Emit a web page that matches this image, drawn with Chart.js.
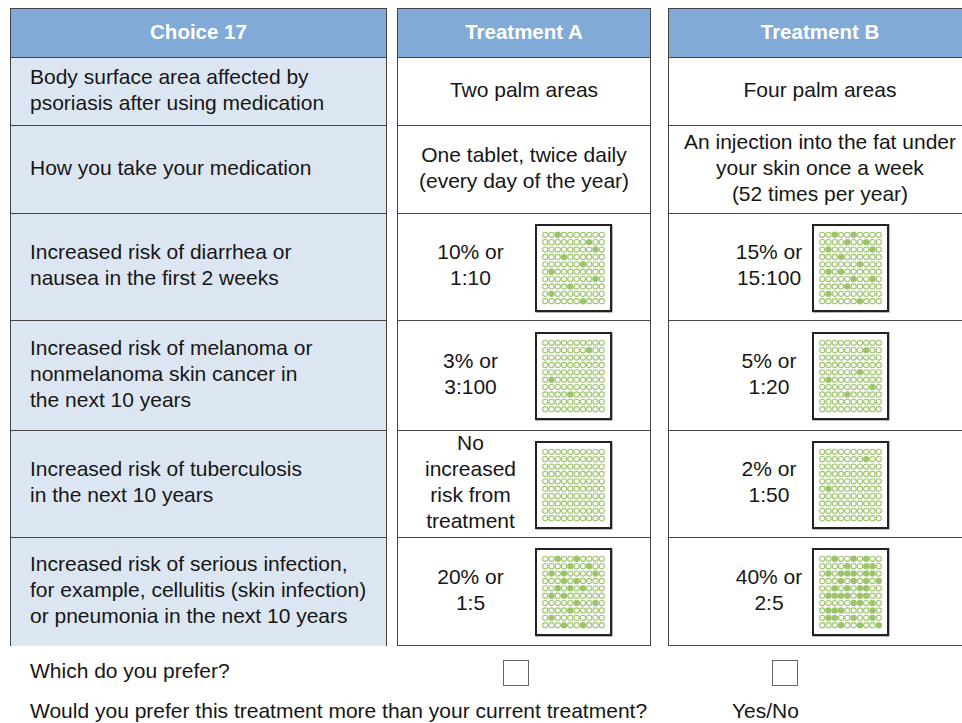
<!DOCTYPE html>
<html>
<head>
<meta charset="utf-8">
<script src="https://cdn.jsdelivr.net/npm/chart.js@4.4.1/dist/chart.umd.min.js"></script>
<style>
  body { margin:0; width:962px; height:723px; overflow:hidden; background:#fff; position:relative;
         font-family:"Liberation Sans", Arial, sans-serif; color:#161616; }
  .panel { position:absolute; top:8px; height:638px; border:1px solid #444; box-sizing:border-box; }
  .hdr { position:absolute; left:0; right:0; top:0; height:49px; background:#82aad6; color:#fff;
         font-weight:bold; font-size:20.5px; display:flex; align-items:center; justify-content:center;
         border-bottom:1px solid #444; box-sizing:border-box; padding-bottom:3px; }
  .row { position:absolute; left:0; right:0; border-bottom:1px solid #444; box-sizing:border-box; }
  .panel.attr .row { background:#dce6f2; }
  .txt { position:absolute; top:0; bottom:0; display:flex; align-items:center; font-size:21px; line-height:26px;
         white-space:pre; padding-bottom:4px; box-sizing:border-box; }
  .txt.c { justify-content:center; text-align:center; }
  .icon { position:absolute; width:77px; height:88px; border:2px solid #222; box-sizing:border-box; background:#fff;
          box-shadow:0.5px 0.5px 0 #777; }
  .icon canvas { display:block; }
  .q { position:absolute; left:30px; font-size:21px; line-height:26px; white-space:pre; }
  .box { position:absolute; top:660px; width:26px; height:26px; border:1px solid #666; box-sizing:border-box; }
</style>
</head>
<body>
<div class="panel attr" id="pAttr" style="left:10px;width:377px"><div class="hdr">Choice 17</div></div>
<div class="panel" id="pA" style="left:397px;width:254px"><div class="hdr">Treatment A</div></div>
<div class="panel" id="pB" style="left:668px;width:304px"><div class="hdr">Treatment B</div></div>

<div class="q" style="top:658px">Which do you prefer?</div>
<div class="box" style="left:503px"></div>
<div class="box" style="left:772px"></div>
<div class="q" style="top:698px">Would you prefer this treatment more than your current treatment?</div>
<div class="q" style="top:698px;left:732px">Yes/No</div>

<script>
// row texts
const attributes = [
  'Body surface area affected by\npsoriasis after using medication',
  'How you take your medication',
  'Increased risk of diarrhea or\nnausea in the first 2 weeks',
  'Increased risk of melanoma or\nnonmelanoma skin cancer in\nthe next 10 years',
  'Increased risk of tuberculosis\nin the next 10 years',
  'Increased risk of serious infection,\nfor example, cellulitis (skin infection)\nor pneumonia in the next 10 years'
];
const treatmentA = ['Two palm areas', 'One tablet, twice daily\n(every day of the year)',
  '10% or\n1:10', '3% or\n3:100', 'No\nincreased\nrisk from\ntreatment', '20% or\n1:5'];
const treatmentB = ['Four palm areas', 'An injection into the fat under\nyour skin once a week\n(52 times per year)',
  '15% or\n15:100', '5% or\n1:20', '2% or\n1:50', '40% or\n2:5'];

// icon arrays: for each of the 10 rows, the columns of filled dots
const diarrheaA  = [[2],[7],[8],[3],[6],[1],[8],[4],[1],[6]];
const diarrheaB  = [[2,5],[4,7],[1,8],[3],[6],[1,3],[5,8],[4],[1],[6]];
const cancerA    = [[],[7],[],[],[],[1],[],[4],[],[]];
const cancerB    = [[],[7],[],[],[6],[1],[8],[4],[],[]];
const tbA        = [[],[],[],[],[],[],[],[],[],[]];
const tbB        = [[],[7],[],[],[],[1],[],[],[],[]];
const infectionA = [[2,5],[4,7],[1,3,8],[3,5],[2,4,6],[1,3],[5,8],[4],[1],[3,6]];
const infectionB = [[2,5,7],[4,7,8],[1,3,4,5,7,8],[3,5,7,9],[2,4,6,7],[1,2,3,4,6,7],[5,6,8],[1,2,3,8],[1,2,5,8],[3,6,9]];

const iconsA = [null, null, diarrheaA, cancerA, tbA, infectionA];
const iconsB = [null, null, diarrheaB, cancerB, tbB, infectionB];

const GREEN = '#9cc46b';
const rowEdges = [49, 117, 205, 312, 422, 529, 637]; // inside panel, below header

function makeIcon(parent, top, left, rows) {
  const box = document.createElement('div');
  box.className = 'icon';
  box.style.top = top + 'px';
  box.style.left = left + 'px';
  const cv = document.createElement('canvas');
  cv.width = 73; cv.height = 84;
  box.appendChild(cv);
  parent.appendChild(box);

  const open = [], filled = [];
  for (let r = 0; r < 10; r++) {
    for (let c = 0; c < 10; c++) {
      (rows[r].includes(c) ? filled : open).push({x: c, y: r});
    }
  }
  new Chart(cv, {
    type: 'scatter',
    data: {
      datasets: [
        {data: open, pointRadius: 2.6, pointBorderWidth: 1.1, pointBorderColor: GREEN, pointBackgroundColor: '#fff', clip: false},
        {data: filled, pointRadius: 3.2, pointBorderWidth: 0, pointBorderColor: GREEN, pointBackgroundColor: GREEN, clip: false}
      ]
    },
    options: {
      responsive: false, animation: false, devicePixelRatio: 1, events: [],
      layout: {padding: 0},
      plugins: {legend: {display: false}, tooltip: {enabled: false}},
      scales: {
        x: {type: 'linear', min: -0.5, max: 9.5, display: false},
        y: {type: 'linear', min: -0.5, max: 9.5, reverse: true, display: false}
      }
    }
  });
}

function buildPanel(id, texts, icons, textBox, iconLeft, leftAlign) {
  const panel = document.getElementById(id);
  texts.forEach((t, i) => {
    const row = document.createElement('div');
    row.className = 'row';
    row.style.top = rowEdges[i] + 'px';
    row.style.height = (rowEdges[i + 1] - rowEdges[i]) + 'px';
    if (i === texts.length - 1) row.style.borderBottom = 'none';
    const tx = document.createElement('div');
    tx.className = 'txt' + (leftAlign ? '' : ' c');
    tx.textContent = t;
    if (leftAlign) { tx.style.left = '19px'; }
    else if (icons && icons[i]) { tx.style.left = textBox[0] + 'px'; tx.style.width = textBox[1] + 'px'; }
    else { tx.style.left = '0'; tx.style.right = '0'; }
    row.appendChild(tx);
    panel.appendChild(row);
    if (icons && icons[i]) {
      const h = rowEdges[i + 1] - rowEdges[i];
      makeIcon(row, Math.round((h - 88) / 2), iconLeft, icons[i]);
    }
  });
}

buildPanel('pAttr', attributes, null, null, 0, true);
buildPanel('pA', treatmentA, iconsA, [0, 145], 137, false);
buildPanel('pB', treatmentB, iconsB, [0, 200], 143, false);
</script>
</body>
</html>
